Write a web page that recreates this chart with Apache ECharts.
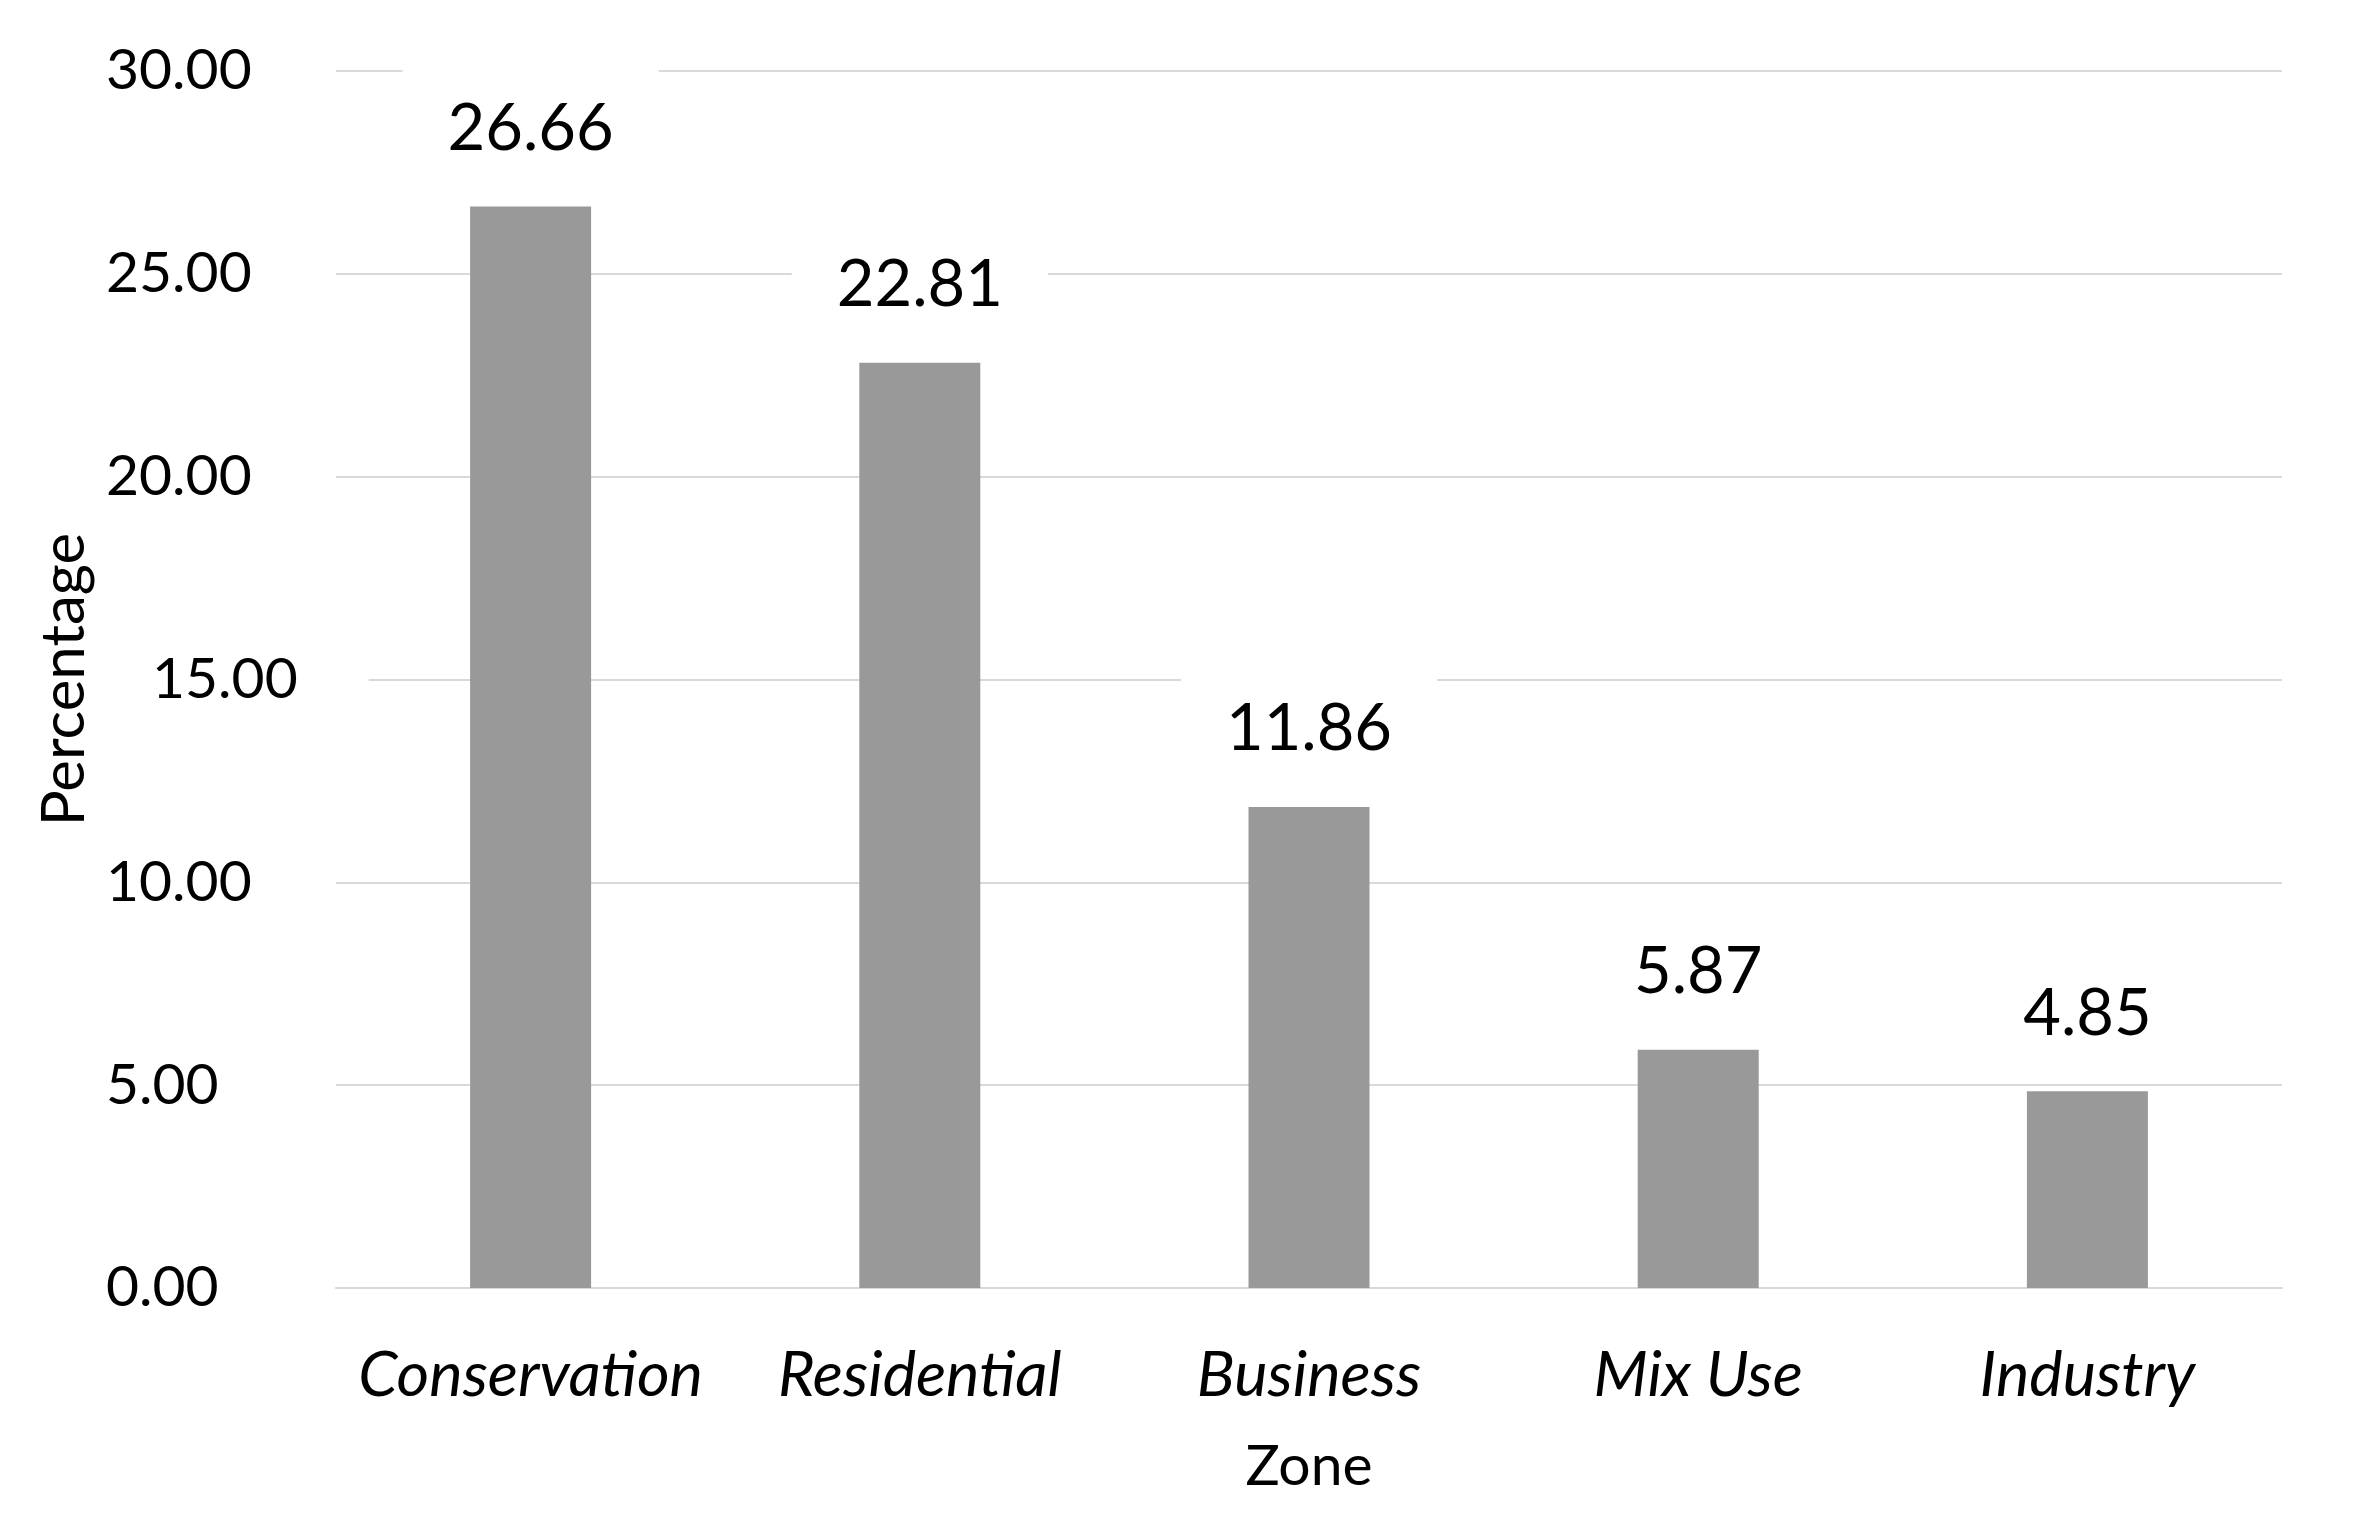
<!DOCTYPE html>
<html>
<head>
<meta charset="utf-8">
<script src="https://cdn.jsdelivr.net/npm/echarts@6/dist/echarts.min.js"></script>
<style>
html,body{margin:0;padding:0;background:#fff;}
#chart{width:2364px;height:1524px;}
</style>
</head>
<body>
<div id="chart"></div>
<script>
const categories = ['Conservation', 'Residential', 'Business', 'Mix Use', 'Industry'];
const values = [26.66, 22.81, 11.86, 5.87, 4.85];
const yTicks = [0, 5, 10, 15, 20, 25, 30];

const FONT = 'Lato';
const chart = echarts.init(document.getElementById('chart'));
chart.setOption({
  backgroundColor: '#ffffff',
  animation: false,
  grid: { left: 336, right: 82, top: 71, bottom: 236, containLabel: false },
  xAxis: {
    type: 'category',
    data: categories,
    name: 'Zone',
    nameLocation: 'middle',
    nameGap: 150,
    nameTextStyle: { fontFamily: FONT, fontSize: 57, color: '#000' },
    axisLine: { show: true, lineStyle: { color: '#d9d9d9', width: 2 } },
    axisTick: { show: false },
    axisLabel: { interval: 0, fontFamily: FONT, fontStyle: 'italic', fontSize: 63, color: '#000', margin: 56 }
  },
  yAxis: {
    type: 'value',
    min: yTicks[0],
    max: yTicks[yTicks.length - 1],
    interval: 5,
    name: 'Percentage',
    nameLocation: 'middle',
    nameGap: 191,
    nameTextStyle: { fontFamily: FONT, fontSize: 60, color: '#000' },
    axisLine: { show: false },
    axisTick: { show: false },
    splitLine: { lineStyle: { color: '#d9d9d9', width: 2 } },
    axisLabel: {
      fontFamily: FONT, fontSize: 57, color: '#000', align: 'left', margin: 230,
      formatter: function (v) {
        const s = v.toFixed(2);
        return v === 15 ? '{s|' + s + '}' : s;
      },
      rich: {
        s: { fontFamily: FONT, fontSize: 57, color: '#000', padding: [0, 71, 0, 46], backgroundColor: '#fff' }
      }
    }
  },
  series: [{
    type: 'bar',
    data: values,
    barWidth: 121,
    itemStyle: { color: '#999999' },
    label: {
      show: true,
      position: 'top',
      distance: 39,
      formatter: function (p) { return p.value.toFixed(2); },
      fontFamily: FONT, fontSize: 65, color: '#000',
      backgroundColor: '#ffffff',
      padding: [32, 45, 6, 45]
    }
  }]
});
</script>
</body>
</html>
